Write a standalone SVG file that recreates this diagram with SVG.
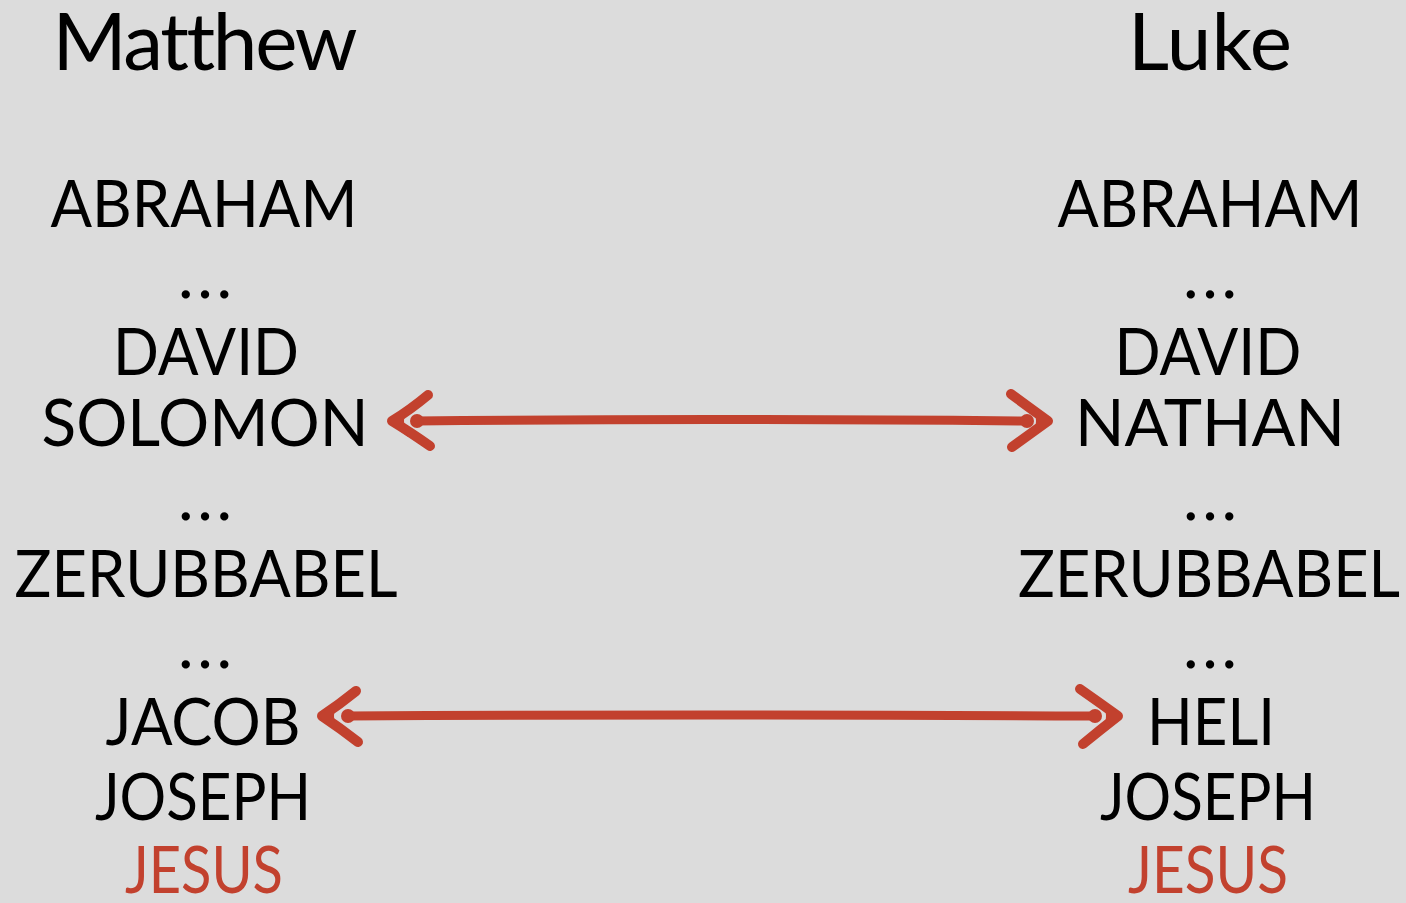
<svg xmlns="http://www.w3.org/2000/svg" width="1406" height="903" viewBox="0 0 1406 903">
<style>
.t{font-family:"Lato","Open Sans","Liberation Sans",sans-serif;fill:#000;text-anchor:middle;font-variant-ligatures:none;font-feature-settings:"liga" 0,"clig" 0,"dlig" 0,"calt" 0}
.h{font-size:80px}
.n{font-size:66px}
.r{fill:#c2412e}
.shaft{fill:none;stroke:#c2412e;stroke-width:9;stroke-linecap:round}
.head{fill:none;stroke:#c2412e;stroke-width:10;stroke-linecap:round;stroke-linejoin:round}
.tip{fill:#c2412e}
</style>
<rect width="1406" height="903" fill="#dcdcdc"/>
<g id="matthew">
<text class="t h" x="205" y="70" textLength="305" lengthAdjust="spacing">Matthew</text>
<text class="t n" x="204" y="227" textLength="307" lengthAdjust="spacingAndGlyphs">ABRAHAM</text>
<text class="t n" x="205" y="298" textLength="54" lengthAdjust="spacing">...</text>
<text class="t n" x="206" y="375" textLength="186" lengthAdjust="spacingAndGlyphs">DAVID</text>
<text class="t n" x="205" y="446" textLength="327" lengthAdjust="spacingAndGlyphs">SOLOMON</text>
<text class="t n" x="205" y="520" textLength="54" lengthAdjust="spacing">...</text>
<text class="t n" x="206" y="597" textLength="383" lengthAdjust="spacingAndGlyphs">ZERUBBABEL</text>
<text class="t n" x="205" y="668" textLength="54" lengthAdjust="spacing">...</text>
<text class="t n" x="203" y="745" textLength="195" lengthAdjust="spacingAndGlyphs">JACOB</text>
<text class="t n" x="203" y="820" textLength="216" lengthAdjust="spacingAndGlyphs">JOSEPH</text>
<text class="t n r" x="204" y="893" textLength="158" lengthAdjust="spacingAndGlyphs">JESUS</text>
</g>
<g id="luke">
<text class="t h" x="1210" y="70" textLength="164" lengthAdjust="spacingAndGlyphs">Luke</text>
<text class="t n" x="1210" y="227" textLength="305" lengthAdjust="spacingAndGlyphs">ABRAHAM</text>
<text class="t n" x="1210" y="298" textLength="54" lengthAdjust="spacing">...</text>
<text class="t n" x="1208" y="375" textLength="187" lengthAdjust="spacingAndGlyphs">DAVID</text>
<text class="t n" x="1210" y="446" textLength="270" lengthAdjust="spacingAndGlyphs">NATHAN</text>
<text class="t n" x="1210" y="520" textLength="54" lengthAdjust="spacing">...</text>
<text class="t n" x="1209" y="597" textLength="382" lengthAdjust="spacingAndGlyphs">ZERUBBABEL</text>
<text class="t n" x="1210" y="668" textLength="54" lengthAdjust="spacing">...</text>
<text class="t n" x="1211" y="745" textLength="128" lengthAdjust="spacingAndGlyphs">HELI</text>
<text class="t n" x="1208" y="820" textLength="216" lengthAdjust="spacingAndGlyphs">JOSEPH</text>
<text class="t n r" x="1208" y="893" textLength="160" lengthAdjust="spacingAndGlyphs">JESUS</text>
</g>
<g id="connectors">
<path class="shaft" d="M416 421 Q700 418 1028 421"/>
<circle class="tip" cx="417" cy="421" r="7"/>
<circle class="tip" cx="1027" cy="421" r="7"/>
<path class="head" d="M428 395 Q410 410 392 421 Q410 432 430 446"/>
<path class="tip" d="M388 421 L408 405 Q400 421 408 437 Z"/>
<path class="head" d="M1011 394 Q1030 408 1048 421 Q1030 434 1012 447"/>
<path class="tip" d="M1052 421 L1032 405 Q1040 421 1032 437 Z"/>
<path class="shaft" d="M347 716 Q700 714 1096 716"/>
<circle class="tip" cx="348" cy="716" r="7"/>
<circle class="tip" cx="1095" cy="716" r="7"/>
<path class="head" d="M356 691 Q340 704 322 716 Q340 728 358 742"/>
<path class="tip" d="M318 716 L338 700 Q330 716 338 732 Z"/>
<path class="head" d="M1080 689 Q1100 703 1118 716 Q1100 730 1083 744"/>
<path class="tip" d="M1122 716 L1102 700 Q1110 716 1102 732 Z"/>
</g>
</svg>
